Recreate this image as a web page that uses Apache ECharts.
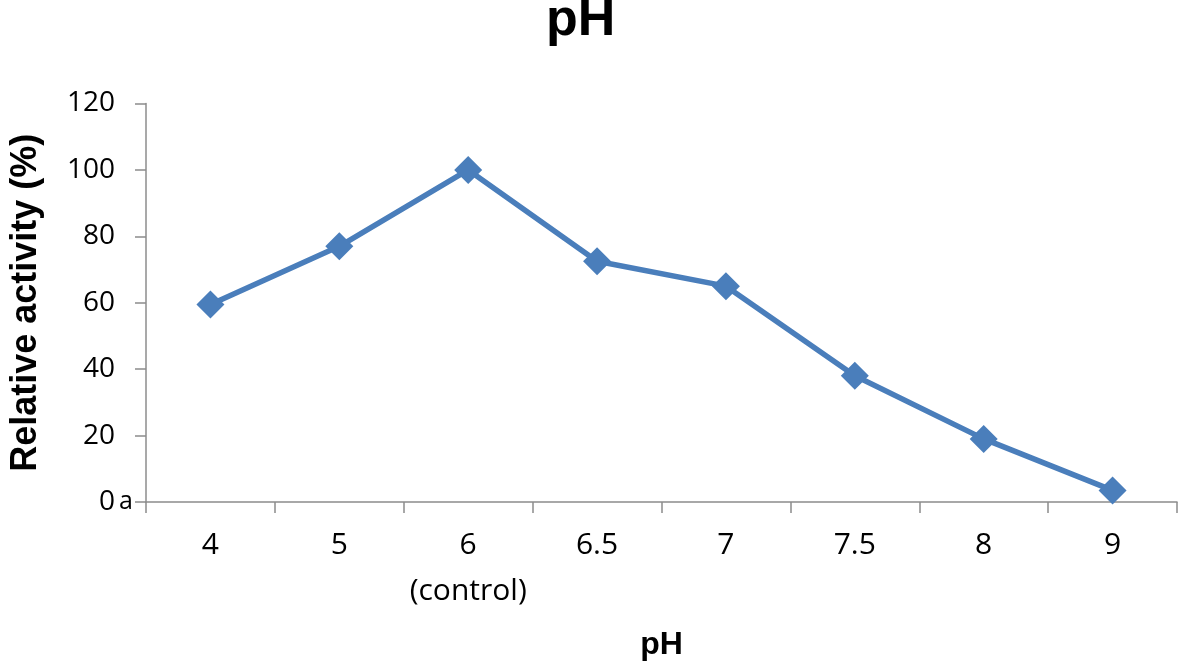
<!DOCTYPE html>
<html><head><meta charset="utf-8">
<script src="https://cdn.jsdelivr.net/npm/echarts@6/dist/echarts.min.js"></script>
<style>html,body{margin:0;padding:0;background:#fff}#c{width:1180px;height:671px}</style>
</head><body><div id="c"></div>
<script>
const categories = ['4', '5', '6\n(control)', '6.5', '7', '7.5', '8', '9'];
const activity = [59.5, 77, 100, 72.5, 65, 38, 19, 3.5];
const yTicks = { min: 0, max: 120, interval: 20 };

const chart = echarts.init(document.getElementById('c'), null, {renderer: 'canvas'});
chart.setOption({
  animation: false,
  backgroundColor: '#fff',
  title: {
    text: 'pH', left: 546, top: -5, padding: 0,
    textStyle: {fontFamily: 'Liberation Sans', fontWeight: 'bold', fontSize: 52, color: '#000'}
  },
  grid: {left: 145, right: 3, top: 103.5, bottom: 169, containLabel: false},
  xAxis: {
    type: 'category', data: categories, boundaryGap: true,
    name: 'pH', nameLocation: 'middle', nameGap: 127,
    nameTextStyle: {fontFamily: 'Liberation Sans', fontWeight: 'bold', fontSize: 32, color: '#000'},
    axisLine: {lineStyle: {color: '#8c8c8c', width: 1.5}},
    axisTick: {show: true, interval: 0, alignWithLabel: false, length: 11, lineStyle: {color: '#8c8c8c', width: 1.5}},
    axisLabel: {interval: 0, hideOverlap: false, margin: 20, fontFamily: 'Open Sans', fontSize: 30, color: '#000', lineHeight: 46},
    splitLine: {show: false}
  },
  yAxis: {
    type: 'value', min: yTicks.min, max: yTicks.max, interval: yTicks.interval,
    name: 'Relative activity (%)', nameLocation: 'middle', nameGap: 102,
    nameTextStyle: {fontFamily: 'Liberation Sans', fontWeight: 'bold', fontSize: 36, color: '#000'},
    axisLine: {show: true, lineStyle: {color: '#8c8c8c', width: 1.5}},
    axisTick: {show: true, length: 11, lineStyle: {color: '#8c8c8c', width: 1.5}},
    axisLabel: {
      margin: 13, fontFamily: 'Open Sans', fontSize: 28, color: '#000',
      formatter: v => v === 0 ? '{v|0}{a|a}' : '{v|' + v + '}{a| }',
      rich: {
        v: {fontFamily: 'Open Sans', fontSize: 28, color: '#000'},
        a: {fontFamily: 'Open Sans', fontSize: 25, color: '#000', width: 18, align: 'right'}
      }
    },
    splitLine: {show: false}
  },
  series: [{
    type: 'line', data: activity,
    symbol: 'diamond', symbolSize: 28,
    lineStyle: {color: '#4a7ebb', width: 5.5},
    itemStyle: {color: '#4a7ebb'}
  }]
});
</script></body></html>
